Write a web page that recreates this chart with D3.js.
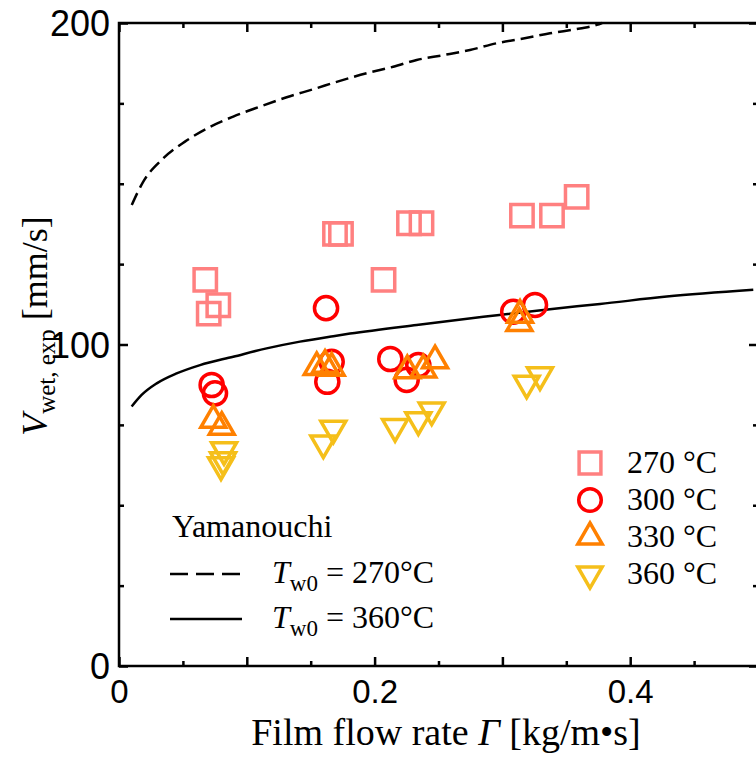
<!DOCTYPE html>
<html>
<head>
<meta charset="utf-8">
<script src="https://cdn.jsdelivr.net/npm/d3@7"></script>
<style>
  body { margin: 0; background: #fff; }
  svg { display: block; }
</style>
</head>
<body>
<div id="chart"></div>
<script>
// measured points [film flow rate, V_wet,exp]
const data270 = [[0.0675,120.1],[0.0777,112.2],[0.0702,109.6],[0.169,134.4],[0.1737,134.4],
  [0.207,120.1],[0.2269,137.7],[0.2367,137.7],[0.3153,140.1],[0.3388,140.1],[0.3581,145.9]];
const data300 = [[0.0725,87.4],[0.0751,84.8],[0.162,111.3],[0.1664,94.6],[0.163,88.4],
  [0.2123,95.5],[0.2251,89.0],[0.2342,93.6],[0.3085,110.2],[0.3255,112.3]];
const data330 = [[0.0738,76.5],[0.0804,74.3],[0.1547,92.9],[0.1612,93.6],[0.1664,92.7],
  [0.2256,91.9],[0.2381,92.1],[0.2473,95.0],[0.3138,109.2],[0.3133,106.6]];
const data360 = [[0.0822,67.2],[0.0814,64.1],[0.0798,62.5],[0.1677,73.9],[0.1599,69.3],
  [0.216,74.4],[0.2342,76.5],[0.2447,79.6],[0.3294,90.5],[0.319,87.9]];

// Yamanouchi curves
const yama270 = [[0.01,143.4],[0.0189,150.6],[0.0333,157.4],[0.0516,163.1],[0.0712,167.7],
  [0.0894,170.9],[0.1103,174.0],[0.1312,176.9],[0.152,179.4],[0.1729,182.0],[0.1938,184.4],
  [0.2146,186.4],[0.2329,188.5],[0.2538,190.0],[0.2746,191.6],[0.2955,193.7],[0.3164,195.2],
  [0.3372,196.8],[0.3607,198.3],[0.3738,199.4],[0.378,200]];
const yama360 = [[0.0099,80.7],[0.0177,84.3],[0.0295,87.9],[0.0451,91.0],[0.0634,93.6],
  [0.0894,96.2],[0.1155,98.8],[0.1416,100.9],[0.1677,102.6],[0.1808,103.4],[0.2329,106.1],
  [0.2851,108.6],[0.3372,111.0],[0.3764,112.6],[0.4286,114.9],[0.4963,117.0]];

const xMajor = [0, 0.1, 0.2, 0.3, 0.4, 0.5];
const xMinor = [0.05, 0.15, 0.25, 0.35, 0.45];
const xLabels = [0, 0.2, 0.4];
const yMajor = [0, 100, 200];
const yMinor = [25, 50, 75, 125, 150, 175];

const seriesNames = ["270 °C", "300 °C", "330 °C", "360 °C"];

const W = 756, H = 760;
const plot = {left: 119, right: 758, top: 23, bottom: 666};

const svg = d3.select("#chart").append("svg").attr("width", W).attr("height", H);

const x = d3.scaleLinear().domain([0, 0.5]).range([plot.left, plot.right]);
const y = d3.scaleLinear().domain([0, 200]).range([plot.bottom, plot.top]);

const tickFont = "'Liberation Sans', Arial, sans-serif";
const serif = "'Liberation Serif', 'Times New Roman', serif";

// axes: ticks pointing inward
function styleAxis(g) {
  g.select(".domain").remove();
  g.selectAll(".tick line").attr("stroke", "#000").attr("stroke-width", 2.5);
  g.selectAll(".tick text").attr("fill", "#000").style("font-family", tickFont).style("font-size", "33px");
}

svg.append("g").attr("transform", `translate(0,${plot.bottom})`)
  .call(d3.axisBottom(x).tickValues(xMajor).tickSizeInner(-9).tickSizeOuter(0).tickPadding(14)
    .tickFormat(d => xLabels.some(v => Math.abs(v - d) < 1e-9) ? d3.format("")(d) : ""))
  .call(styleAxis);
svg.append("g").attr("transform", `translate(0,${plot.bottom})`)
  .call(d3.axisBottom(x).tickValues(xMinor).tickSizeInner(-5).tickSizeOuter(0).tickFormat(""))
  .call(styleAxis);
svg.append("g").attr("transform", `translate(0,${plot.top})`)
  .call(d3.axisTop(x).tickValues(xMajor).tickSizeInner(-9).tickSizeOuter(0).tickFormat(""))
  .call(styleAxis);
svg.append("g").attr("transform", `translate(0,${plot.top})`)
  .call(d3.axisTop(x).tickValues(xMinor).tickSizeInner(-5).tickSizeOuter(0).tickFormat(""))
  .call(styleAxis);

svg.append("g").attr("transform", `translate(${plot.left},0)`)
  .call(d3.axisLeft(y).tickValues(yMajor).tickSizeInner(-9).tickSizeOuter(0).tickPadding(9))
  .call(styleAxis)
  .call(g => g.selectAll(".tick text").style("font-size", "36px").attr("dy", "0.36em"));
svg.append("g").attr("transform", `translate(${plot.left},0)`)
  .call(d3.axisLeft(y).tickValues(yMinor).tickSizeInner(-5).tickSizeOuter(0).tickFormat(""))
  .call(styleAxis);
svg.append("g").attr("transform", `translate(${plot.right},0)`)
  .call(d3.axisRight(y).tickValues(yMajor).tickSizeInner(-9).tickSizeOuter(0).tickFormat(""))
  .call(styleAxis);
svg.append("g").attr("transform", `translate(${plot.right},0)`)
  .call(d3.axisRight(y).tickValues(yMinor).tickSizeInner(-5).tickSizeOuter(0).tickFormat(""))
  .call(styleAxis);

// frame
svg.append("rect").attr("x", plot.left).attr("y", plot.top)
  .attr("width", plot.right - plot.left).attr("height", plot.bottom - plot.top)
  .attr("fill", "none").attr("stroke", "#000").attr("stroke-width", 2.5);

// curves
const line = d3.line().x(d => x(d[0])).y(d => y(d[1])).curve(d3.curveMonotoneX);
svg.append("path").datum(yama270).attr("d", line)
  .attr("fill", "none").attr("stroke", "#000").attr("stroke-width", 2.5).attr("stroke-dasharray", "13,6");
svg.append("path").datum(yama360).attr("d", line)
  .attr("fill", "none").attr("stroke", "#000").attr("stroke-width", 2.5);

// markers
const markers = [
  {data: data270, type: d3.symbolSquare, size: 500, rot: 0, color: "#ff8080"},
  {data: data300, type: d3.symbolCircle, size: 420, rot: 0, color: "#ff0000"},
  {data: data330, type: d3.symbolTriangle, size: 270, rot: 0, color: "#ff8000"},
  {data: data360, type: d3.symbolTriangle, size: 270, rot: 180, color: "#f5bf1a"}
];

markers.forEach(m => {
  svg.append("g").selectAll("path").data(m.data).enter().append("path")
    .attr("d", d3.symbol().type(m.type).size(m.size))
    .attr("transform", d => `translate(${x(d[0])},${y(d[1])}) rotate(${m.rot})`)
    .attr("fill", "none").attr("stroke", m.color).attr("stroke-width", 3.5);
});

// legend (series)
const leg = svg.append("g");
markers.forEach((m, i) => {
  const cy = 463 + i * 37;
  leg.append("path")
    .attr("d", d3.symbol().type(m.type).size(m.size * 0.95))
    .attr("transform", `translate(590,${cy}) rotate(${m.rot})`)
    .attr("fill", "none").attr("stroke", m.color).attr("stroke-width", 3.5);
  leg.append("text").attr("x", 627).attr("y", cy + 10)
    .style("font-family", serif).style("font-size", "32px").text(seriesNames[i]);
});

// legend (Yamanouchi)
const yl = svg.append("g").style("font-family", serif);
yl.append("text").attr("x", 172).attr("y", 537).style("font-size", "32px").text("Yamanouchi");
[["18,8", 574, "270°C"], [null, 619, "360°C"]].forEach(([dash, ly, lab]) => {
  yl.append("line").attr("x1", 170).attr("x2", 242).attr("y1", ly).attr("y2", ly)
    .attr("stroke", "#000").attr("stroke-width", 2.5).attr("stroke-dasharray", dash);
  const t = yl.append("text").attr("x", 272).attr("y", ly + 9).style("font-size", "32px");
  t.append("tspan").style("font-style", "italic").text("T");
  t.append("tspan").attr("dy", 8).style("font-size", "23px").text("w0");
  t.append("tspan").attr("dy", -8).text(" = " + lab);
});

// axis titles
const xt = svg.append("text").attr("x", 446).attr("y", 745).attr("text-anchor", "middle")
  .style("font-family", serif).style("font-size", "38px");
xt.append("tspan").text("Film flow rate ");
xt.append("tspan").style("font-style", "italic").text("Γ");
xt.append("tspan").text(" [kg/m•s]");

const yt = svg.append("text").attr("transform", "translate(47,326) rotate(-90)")
  .attr("text-anchor", "middle").style("font-family", serif).style("font-size", "36px");
yt.append("tspan").style("font-style", "italic").text("V");
yt.append("tspan").attr("dy", 8).style("font-size", "25px").text("wet, exp");
yt.append("tspan").attr("dy", -8).text(" [mm/s]");
</script>
</body>
</html>
